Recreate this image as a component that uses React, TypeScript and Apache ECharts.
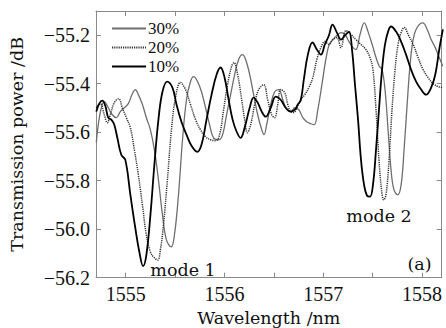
import React, { useEffect, useRef } from "react";
import * as echarts from "echarts";

const seriesNames = ["30%", "20%", "10%"];

// 10% (black)
const wl10 = [1554.703,1554.733,1554.764,1554.794,1554.824,1554.855,1554.885,1554.916,1554.956,1554.997,1555.048,1555.098,1555.139,1555.177,1555.210,1555.251,1555.291,1555.332,1555.373,1555.420,1555.474,1555.515,1555.565,1555.616,1555.667,1555.725,1555.768,1555.819,1555.870,1555.921,1555.961,1556.002,1556.043,1556.083,1556.124,1556.164,1556.205,1556.256,1556.296,1556.337,1556.378,1556.418,1556.469,1556.520,1556.570,1556.621,1556.672,1556.713,1556.743,1556.774,1556.804,1556.845,1556.892,1556.936,1556.977,1557.017,1557.058,1557.095,1557.139,1557.180,1557.220,1557.261,1557.292,1557.322,1557.353,1557.383,1557.414,1557.444,1557.474,1557.504,1557.535,1557.565,1557.596,1557.626,1557.657,1557.687,1557.738,1557.789,1557.839,1557.890,1557.941,1557.992,1558.042,1558.093,1558.135,1558.175,1558.212];
const pw10 = [-55.515,-55.482,-55.470,-55.491,-55.540,-55.548,-55.569,-55.623,-55.693,-55.714,-55.858,-55.995,-56.094,-56.152,-56.106,-55.941,-55.734,-55.548,-55.433,-55.391,-55.416,-55.486,-55.557,-55.610,-55.656,-55.681,-55.652,-55.548,-55.445,-55.362,-55.333,-55.375,-55.466,-55.548,-55.598,-55.623,-55.581,-55.499,-55.457,-55.478,-55.515,-55.536,-55.499,-55.453,-55.466,-55.499,-55.515,-55.507,-55.486,-55.466,-55.383,-55.280,-55.230,-55.259,-55.280,-55.238,-55.201,-55.156,-55.189,-55.218,-55.201,-55.185,-55.259,-55.404,-55.548,-55.714,-55.817,-55.862,-55.866,-55.817,-55.672,-55.507,-55.342,-55.238,-55.185,-55.164,-55.185,-55.226,-55.280,-55.342,-55.391,-55.424,-55.445,-55.416,-55.362,-55.259,-55.176];

// 20% (dotted)
const wl20 = [1554.703,1554.743,1554.784,1554.814,1554.845,1554.885,1554.929,1554.966,1555.007,1555.048,1555.088,1555.129,1555.170,1555.210,1555.251,1555.291,1555.325,1555.352,1555.383,1555.423,1555.464,1555.505,1555.555,1555.606,1555.657,1555.708,1555.758,1555.809,1555.860,1555.910,1555.951,1555.992,1556.032,1556.073,1556.096,1556.134,1556.175,1556.205,1556.232,1556.266,1556.306,1556.347,1556.398,1556.438,1556.479,1556.509,1556.540,1556.570,1556.611,1556.642,1556.672,1556.702,1556.733,1556.774,1556.814,1556.855,1556.895,1556.936,1556.977,1557.017,1557.058,1557.098,1557.139,1557.180,1557.231,1557.282,1557.332,1557.383,1557.433,1557.474,1557.504,1557.535,1557.565,1557.591,1557.613,1557.636,1557.667,1557.697,1557.728,1557.758,1557.789,1557.822,1557.860,1557.911,1557.961,1558.012,1558.063,1558.114,1558.165,1558.212];
const pw20 = [-55.499,-55.482,-55.528,-55.561,-55.528,-55.478,-55.462,-55.499,-55.540,-55.581,-55.672,-55.776,-55.900,-56.024,-56.094,-56.118,-56.127,-56.085,-55.983,-55.796,-55.590,-55.457,-55.395,-55.424,-55.486,-55.548,-55.590,-55.619,-55.631,-55.635,-55.610,-55.507,-55.404,-55.328,-55.313,-55.362,-55.466,-55.548,-55.602,-55.569,-55.486,-55.424,-55.404,-55.466,-55.528,-55.540,-55.486,-55.424,-55.437,-55.486,-55.515,-55.519,-55.499,-55.466,-55.445,-55.416,-55.375,-55.300,-55.251,-55.226,-55.238,-55.218,-55.210,-55.251,-55.181,-55.197,-55.218,-55.238,-55.259,-55.292,-55.342,-55.507,-55.714,-55.838,-55.879,-55.858,-55.714,-55.507,-55.342,-55.238,-55.189,-55.168,-55.197,-55.238,-55.292,-55.342,-55.375,-55.400,-55.412,-55.416];

// 30% (gray)
const wl30 = [1554.703,1554.723,1554.754,1554.784,1554.824,1554.865,1554.906,1554.946,1554.987,1555.027,1555.068,1555.098,1555.129,1555.170,1555.210,1555.251,1555.291,1555.332,1555.373,1555.413,1555.461,1555.494,1555.535,1555.576,1555.616,1555.657,1555.690,1555.728,1555.768,1555.809,1555.850,1555.890,1555.944,1555.982,1556.022,1556.063,1556.104,1556.144,1556.182,1556.215,1556.256,1556.296,1556.337,1556.378,1556.401,1556.428,1556.469,1556.509,1556.550,1556.591,1556.631,1556.672,1556.713,1556.753,1556.794,1556.834,1556.875,1556.909,1556.946,1556.987,1557.027,1557.061,1557.098,1557.139,1557.180,1557.220,1557.261,1557.302,1557.332,1557.373,1557.416,1557.454,1557.501,1557.535,1557.568,1557.596,1557.626,1557.657,1557.687,1557.717,1557.755,1557.789,1557.819,1557.850,1557.880,1557.911,1557.951,1558.009,1558.053,1558.093,1558.135,1558.175,1558.212];
const pw30 = [-55.643,-55.569,-55.499,-55.474,-55.499,-55.528,-55.540,-55.515,-55.499,-55.482,-55.441,-55.424,-55.445,-55.486,-55.540,-55.590,-55.672,-55.796,-55.941,-56.044,-56.073,-56.024,-55.858,-55.631,-55.466,-55.391,-55.371,-55.391,-55.433,-55.499,-55.569,-55.623,-55.631,-55.610,-55.528,-55.445,-55.362,-55.300,-55.280,-55.300,-55.362,-55.445,-55.528,-55.590,-55.610,-55.569,-55.486,-55.433,-55.424,-55.466,-55.507,-55.515,-55.499,-55.507,-55.540,-55.557,-55.565,-55.569,-55.507,-55.404,-55.300,-55.238,-55.218,-55.201,-55.189,-55.197,-55.226,-55.251,-55.259,-55.197,-55.149,-55.185,-55.245,-55.292,-55.328,-55.342,-55.424,-55.590,-55.755,-55.838,-55.858,-55.817,-55.672,-55.486,-55.321,-55.218,-55.168,-55.149,-55.176,-55.218,-55.251,-55.292,-55.328];

const xMin = 1554.7;
const xMax = 1558.2;
const yMin = -56.2;
const yMax = -55.1;
const yStep = 0.2;

const xTitle = "Wavelength /nm";
const yTitle = "Transmission power /dB";
const annotations = ["mode 1", "mode 2", "(a)"];

const pair = (xs: number[], ys: number[]) => xs.map((x, i) => [x, ys[i]]);

const NUM_FONT = "'Liberation Serif', 'Times New Roman', serif";
const TXT_FONT = "'DejaVu Serif', serif";
const AXIS_COLOR = "#8a8a8a";

export default function App() {
  const ref = useRef<HTMLDivElement>(null);
  useEffect(() => {
    if (!ref.current) return;
    const chart = echarts.init(ref.current, undefined, { renderer: "svg" });
    const xFmt = (v: number) =>
      Math.abs(v - Math.round(v)) < 1e-6 ? String(Math.round(v)) : "";
    const yFmt = (v: number) => {
      const k = v / yStep;
      return Math.abs(k - Math.round(k)) < 1e-6 ? v.toFixed(1).replace("-", "\u2212") : "";
    };
    const baseX = {
      type: "value" as const,
      min: xMin,
      max: xMax,
      splitNumber: 7,
      splitLine: { show: false },
      axisLine: { show: true, lineStyle: { color: AXIS_COLOR, width: 1 } },
      axisTick: { show: true, inside: true, length: 5, lineStyle: { color: AXIS_COLOR } },
    };
    const baseY = {
      type: "value" as const,
      min: yMin,
      max: yMax,
      interval: yStep,
      splitLine: { show: false },
      axisLine: { show: true, lineStyle: { color: AXIS_COLOR, width: 1 } },
      axisTick: { show: true, inside: true, length: 5, lineStyle: { color: AXIS_COLOR } },
    };
    chart.setOption({
      animation: false,
      backgroundColor: "#ffffff",
      grid: { left: 96, right: 4.3, top: 11, bottom: 50.3, containLabel: false, outerBoundsMode: "none" },
      legend: {
        orient: "vertical",
        left: 111,
        top: 20,
        padding: 0,
        itemWidth: 34,
        itemHeight: 10,
        itemGap: 2,
        data: seriesNames,
        itemStyle: { opacity: 0, borderWidth: 0 },
        textStyle: { fontFamily: NUM_FONT, fontSize: 17, color: "#111", padding: [0, 0, 0, -3] },
      },
      xAxis: [
        {
          ...baseX,
          position: "bottom",
          name: xTitle,
          nameLocation: "middle",
          nameGap: 31,
          nameTextStyle: { fontFamily: TXT_FONT, fontSize: 17.5, color: "#111" },
          axisLabel: { show: true, margin: 6, formatter: xFmt, fontFamily: NUM_FONT, fontSize: 20, color: "#111", showMinLabel: false, showMaxLabel: false },
        },
        { ...baseX, position: "top", axisLabel: { show: false } },
      ],
      yAxis: [
        {
          ...baseY,
          position: "left",
          name: yTitle,
          nameLocation: "middle",
          nameGap: 70,
          nameTextStyle: { fontFamily: TXT_FONT, fontSize: 17.5, color: "#111" },
          axisLabel: { show: true, margin: 6, formatter: yFmt, fontFamily: NUM_FONT, fontSize: 20, color: "#111" },
        },
        { ...baseY, position: "right", axisLabel: { show: false } },
      ],
      series: [
        {
          name: seriesNames[0],
          type: "line",
          data: pair(wl30, pw30),
          showSymbol: false,
          symbol: "none",
          smooth: 0.4,
          lineStyle: { color: "#6e6e6e", width: 1.3 },
          itemStyle: { color: "#6e6e6e" },
          z: 2,
        },
        {
          name: seriesNames[1],
          type: "line",
          data: pair(wl20, pw20),
          showSymbol: false,
          symbol: "none",
          smooth: 0.4,
          lineStyle: { color: "#333333", width: 1.5, type: [1.2, 1] },
          itemStyle: { color: "#333333" },
          z: 3,
        },
        {
          name: seriesNames[2],
          type: "line",
          data: pair(wl10, pw10),
          showSymbol: false,
          symbol: "none",
          smooth: 0.4,
          lineStyle: { color: "#000000", width: 1.8 },
          itemStyle: { color: "#000000" },
          z: 4,
        },
      ],
      graphic: [
        { type: "text", x: 183, y: 270, style: { text: annotations[0], fontFamily: TXT_FONT, fontSize: 17.5, fill: "#111", align: "center", verticalAlign: "middle" }, z: 10 },
        { type: "text", x: 379, y: 215.5, style: { text: annotations[1], fontFamily: TXT_FONT, fontSize: 17.5, fill: "#111", align: "center", verticalAlign: "middle" }, z: 10 },
        { type: "text", x: 419.5, y: 264, style: { text: annotations[2], fontFamily: TXT_FONT, fontSize: 17.5, fill: "#111", align: "center", verticalAlign: "middle" }, z: 10 },
      ],
    });
    return () => chart.dispose();
  }, []);
  return (
    <div
      ref={ref}
      style={{ position: "fixed", left: 0, top: 0, width: 446, height: 328, background: "#fff" }}
    />
  );
}
